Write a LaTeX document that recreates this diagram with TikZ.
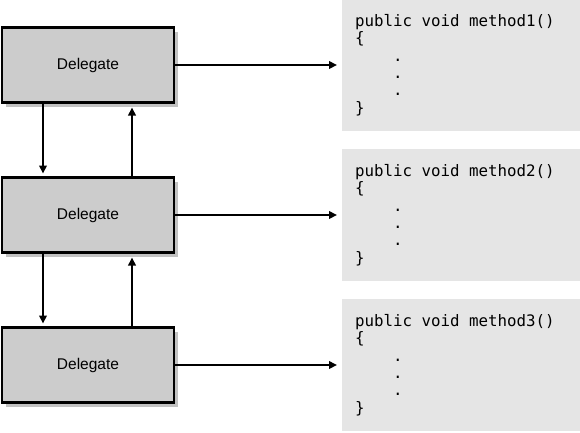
\documentclass[tikz,border=0pt]{standalone}
\usepackage{fontspec}
\setmainfont{Liberation Sans}
\newfontfamily\codefont{DejaVu Sans Mono}
\usetikzlibrary{positioning}
\usetikzlibrary{shadows}
\usetikzlibrary{arrows.meta}
\newcommand{\codesp}{\hspace*{0.602em}}

\tikzset{
  delegate/.style={draw,fill=black!20,minimum width=172pt,minimum height=75pt,outer sep=0pt,
    drop shadow={shadow xshift=4pt,shadow yshift=-4pt,fill=black!24,opacity=1},
    font=\fontsize{15.5}{18}\selectfont},
  codebox/.style={fill=black!10,minimum width=238pt,minimum height=132pt,inner xsep=13pt,
    text width=212pt,align=left,outer sep=0pt,font=\codefont\fontsize{15.8}{17.4}\selectfont}
}

\begin{document}
\begin{tikzpicture}[node distance=75pt,line width=2.4pt,>={Triangle[length=8pt,width=7.5pt]}]
  \useasboundingbox (0pt,0pt) rectangle (580pt,-432pt);
  \node[delegate](d1) at (88pt,-65pt) {Delegate};
  \node[delegate,below= of d1](d2) {Delegate};
  \node[delegate,below= of d2](d3) {Delegate};
  \node[codebox,right=168pt of d1](m1) {public\codesp void\codesp method1()\\\{\\\phantom{0000}.\\\phantom{0000}.\\\phantom{0000}.\\\}};
  \node[codebox,right=168pt of d2](m2) {public\codesp void\codesp method2()\\\{\\\phantom{0000}.\\\phantom{0000}.\\\phantom{0000}.\\\}};
  \node[codebox,right=168pt of d3](m3) {public\codesp void\codesp method3()\\\{\\\phantom{0000}.\\\phantom{0000}.\\\phantom{0000}.\\\}};
  \draw[->,shorten >=5pt] (d1)--(m1);
  \draw[->,shorten >=5pt] (d2)--(m2);
  \draw[->,shorten >=5pt] (d3)--(m3);
  \draw[->,shorten >=4pt] ([xshift=41pt]d1.south west)--([xshift=41pt]d2.north west);
  \draw[->,shorten >=5pt] ([xshift=-42pt]d2.north east)--([xshift=-42pt]d1.south east);
  \draw[->,shorten >=4pt] ([xshift=41pt]d2.south west)--([xshift=41pt]d3.north west);
  \draw[->,shorten >=5pt] ([xshift=-42pt]d3.north east)--([xshift=-42pt]d2.south east);
\end{tikzpicture}
\end{document}
